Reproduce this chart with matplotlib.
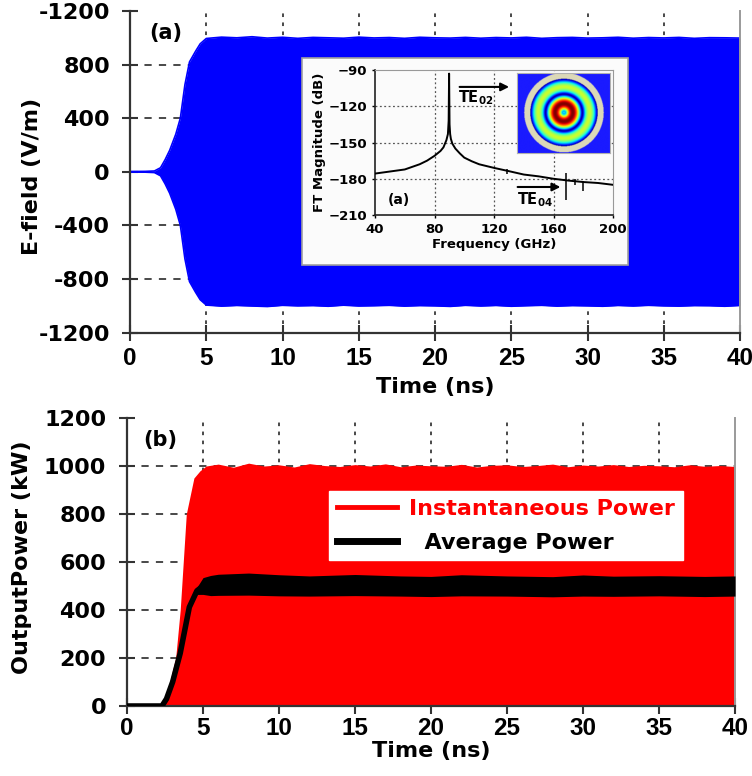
import numpy as np
import matplotlib
matplotlib.use("Agg")
import matplotlib.pyplot as plt
from matplotlib.patches import Rectangle
from matplotlib.lines import Line2D

plt.rcParams["font.family"] = ["DejaVu Sans"]
plt.rcParams["font.weight"] = "bold"
plt.rcParams["mathtext.default"] = "bf"

# ---------------- (a) E-field envelope (V/m) ----------------
t_field = [0, 1.0, 1.6, 2.0, 2.3, 2.6, 3.0, 3.3, 3.6, 3.9, 4.3, 4.6, 5.0,
           6, 7, 8, 9, 10, 11, 12, 13, 14, 15, 16, 17, 18, 19, 20, 21, 22,
           23, 24, 25, 26, 27, 28, 29, 30, 31, 32, 33, 34, 35, 36, 37, 38, 39, 40]
field_upper = [2, 3, 6, 30, 90, 160, 280, 400, 650, 820, 900, 955, 995,
               1005, 1000, 1008, 998, 1004, 996, 1003, 1000, 997, 1005, 999, 1002, 996,
               1004, 1000, 998, 1003, 997, 1002, 999, 1004, 996, 1001, 1003, 998,
               1000, 1004, 997, 1002, 999, 1003, 996, 1001, 1000, 998]
field_lower = [2, 3, 6, 30, 90, 160, 280, 400, 650, 820, 900, 955, 995,
               1003, 998, 1002, 1006, 997, 1001, 999, 1004, 996, 1002, 1000, 997, 1003,
               999, 1001, 1005, 997, 1002, 998, 1004, 1000, 997, 1003, 999, 1001,
               1004, 998, 1002, 997, 1001, 1003, 999, 1000, 1004, 998]
field_ticks = [-1200, -800, -400, 0, 400, 800, 1200]
field_tick_labels = ["-1200", "-800", "-400", "0", "400", "800", "-1200"]
time_ticks = [0, 5, 10, 15, 20, 25, 30, 35, 40]

# ---------------- inset: FT spectrum ----------------
freq = [40, 50, 60, 70, 75, 80, 84, 86, 88, 89, 89.5, 89.8, 90.1, 90.5, 91, 92,
        94, 97, 100, 105, 110, 120, 130, 140, 150, 160, 170, 180, 190, 200]
ft_db = [-175.7, -174, -172.3, -168, -165, -161, -157, -154, -148, -143, -132, -93,
         -135, -143, -147, -151, -155, -159, -162.5, -165.5, -168, -171, -173.7,
         -176.5, -178, -180, -181.5, -182.7, -183.5, -185]
spike_freq = [168.4, 179.7, 174.5, 128.5]
spike_top = [-175, -181.5, -180.5, -172]
spike_bottom = [-197.5, -190.5, -185.5, -176]
freq_ticks = [40, 80, 120, 160, 200]
db_ticks = [-210, -180, -150, -120, -90]

# ---------------- (b) output power (kW) ----------------
t_power = [0, 2.3, 2.6, 3.0, 3.2, 3.5, 3.7, 3.9, 4.4, 4.8, 5.2,
           6, 7, 8, 9, 10, 11, 12, 13, 14, 15, 16, 17, 18, 19, 20, 21, 22,
           23, 24, 25, 26, 27, 28, 29, 30, 31, 32, 33, 34, 35, 36, 37, 38, 39, 40]
inst_power = [0, 0, 40, 150, 200, 400, 600, 800, 950, 980, 1000,
              1008, 995, 1012, 1000, 1005, 996, 1010, 1002, 998, 1006, 1000, 1009, 997,
              1004, 1001, 999, 1007, 996, 1003, 1005, 998, 1002, 1008, 997, 1004,
              1000, 1006, 998, 1003, 1001, 997, 1005, 999, 1002, 998]
t_avg = [0, 2.3, 2.6, 3.0, 3.5, 4.1, 4.6, 5.0, 5.5, 6, 8, 10, 12, 15, 18, 20,
         22, 25, 28, 30, 32, 35, 38, 40]
avg_power = [0, 0, 30, 100, 220, 412, 480, 500, 502, 505, 508, 503, 500, 504,
             500, 498, 503, 500, 497, 502, 499, 501, 498, 500]
avg_spread = [0, 0, 0, 0, 0, 0, 15, 35, 42, 44, 46, 44, 42, 44, 42, 42, 44,
              42, 42, 44, 42, 42, 42, 42]
power_ticks = [0, 200, 400, 600, 800, 1000, 1200]

BLUE = "#0000ff"
RED = "#ff0000"
GRID = "#3a3a3a"


def style_axes(ax, ypad, xpad):
    for side in ("left", "bottom"):
        ax.spines[side].set_linewidth(1.6)
        ax.spines[side].set_color("#333333")
    ax.spines["top"].set_visible(False)
    ax.spines["right"].set_color("#9a9a9a")
    ax.spines["right"].set_linewidth(1.4)
    ax.tick_params(axis="both", direction="inout", length=11, width=1.5,
                   labelsize=16, color="#333333")
    ax.tick_params(axis="y", pad=ypad, right=False)
    ax.tick_params(axis="x", pad=xpad, top=False, labelsize=17.5)
    for lab in ax.get_xticklabels():
        lab.set_fontfamily(["Liberation Sans", "DejaVu Sans"])
        lab.set_fontweight("bold")


def inner_grid(ax, xs, ys):
    for x in xs[1:-1]:
        ax.axvline(x, color=GRID, lw=1.3, ls=(0, (2, 3)), zorder=1)
    for y in ys[1:-1]:
        ax.axhline(y, color=GRID, lw=1.3, ls=(0, (4, 4)), zorder=1)


fig = plt.figure(figsize=(7.52, 7.76), dpi=100)

# ---------------- panel (a) ----------------
ax1 = fig.add_axes([0.1729, 0.5715, 0.8112, 0.4143])
inner_grid(ax1, time_ticks, field_ticks)
tf = np.array(t_field)
up = np.array(field_upper)
lo = -np.array(field_lower)
ax1.fill_between(tf, lo, up, color=BLUE, lw=0, zorder=2)
ax1.plot(tf, up, color=BLUE, lw=1.2, zorder=2)
ax1.plot(tf, lo, color=BLUE, lw=1.2, zorder=2)
ax1.set_xlim(0, 40)
ax1.set_ylim(-1200, 1200)
ax1.set_xticks(time_ticks)
ax1.set_yticks(field_ticks)
ax1.set_yticklabels(field_tick_labels)
style_axes(ax1, ypad=9, xpad=5)
ax1.set_xlabel("Time (ns)", fontsize=16, fontweight="bold")
ax1.set_ylabel("E-field (V/m)", fontsize=16, fontweight="bold")
ax1.xaxis.set_label_coords(0.5, -0.138)
ax1.yaxis.set_label_coords(-0.144, 0.487)
ax1.text(0.0585, 0.933, "(a)", transform=ax1.transAxes, fontsize=15,
         fontweight="bold", ha="center", va="center")

# inset frame and spectrum
fig.patches.append(Rectangle((0.4016, 0.6585), 0.4335, 0.2668,
                             transform=fig.transFigure, facecolor="#fbfbfb",
                             edgecolor="#a0a0a0", lw=1.2, zorder=5))
axi = fig.add_axes([0.4987, 0.7229, 0.3165, 0.1869])
axi.set_zorder(6)
axi.set_facecolor("#fbfbfb")
for x in freq_ticks[1:-1]:
    axi.axvline(x, color="#555555", lw=0.9, ls=(0, (1.5, 2)), zorder=1)
for y in db_ticks[1:-1]:
    axi.axhline(y, color="#555555", lw=0.9, ls=(0, (1.5, 2)), zorder=1)
axi.plot(freq, ft_db, color="black", lw=1.4, zorder=3)
axi.vlines(spike_freq, spike_bottom, spike_top, color="black", lw=1.1, zorder=3)
axi.set_xlim(40, 200)
axi.set_ylim(-210, -90)
axi.set_xticks(freq_ticks)
axi.set_yticks(db_ticks)
axi.tick_params(labelsize=9.5, length=2.5, width=1, pad=3)
for side in ("left", "bottom"):
    axi.spines[side].set_color("#222222")
    axi.spines[side].set_linewidth(1.2)
for side in ("top", "right"):
    axi.spines[side].set_color("#999999")
axi.set_xlabel("Frequency (GHz)", fontsize=9.5, fontweight="bold", labelpad=2)
axi.set_ylabel("FT Magnitude (dB)", fontsize=9.5, fontweight="bold", labelpad=2)
axi.annotate("", xy=(132, -104), xytext=(95, -104),
             arrowprops=dict(arrowstyle="-|>", color="black", lw=1.5,
                             mutation_scale=12))
axi.text(95.5, -113, r"TE$_{02}$", fontsize=10.5, ha="left", va="center")
axi.annotate("", xy=(166.5, -186.8), xytext=(134, -186.8),
             arrowprops=dict(arrowstyle="-|>", color="black", lw=1.5,
                             mutation_scale=12))
axi.text(135.5, -197.5, r"TE$_{04}$", fontsize=10.5, ha="left", va="center")
axi.text(56, -197.5, "(a)", fontsize=10, fontweight="bold", ha="center", va="center")

# TE02 field map (pixel-scaled grid so the guide cross-section stays circular)
axm = fig.add_axes([0.6875, 0.8028, 0.1237, 0.1031])
axm.set_zorder(7)
half_w, half_h = 46.5, 40.0
X, Y = np.meshgrid(np.linspace(-half_w, half_w, 240), np.linspace(-half_h, half_h, 206))
R = np.hypot(X, Y)
wall_r, field_r = 39.5, 33.5
tau = np.linspace(0, np.pi, 200)
rr = np.linspace(0, 1, 300)
j1 = np.trapezoid(np.cos(tau[None, :] - 7.016 * rr[:, None] * np.sin(tau[None, :])),
                  tau, axis=1) / np.pi
rg = R / field_r
mag = np.interp(np.clip(rg, 0, 1), rr, np.abs(j1)) / 0.582
mag = np.maximum(mag, 0.38 * np.exp(-(rg / 0.08) ** 2))
rgba = plt.cm.jet(np.clip(mag, 0, 1))
rgba[(R > field_r) & (R <= wall_r)] = matplotlib.colors.to_rgba("#dcd9b8")
rgba[R > wall_r] = matplotlib.colors.to_rgba("#1a1aff")
axm.imshow(rgba, extent=(-half_w, half_w, -half_h, half_h), aspect="auto",
           interpolation="bilinear")
axm.set_xticks([])
axm.set_yticks([])
for s in axm.spines.values():
    s.set_color("#b0b0b0")
    s.set_linewidth(0.8)

# ---------------- panel (b) ----------------
ax2 = fig.add_axes([0.1689, 0.0902, 0.8085, 0.3711])
inner_grid(ax2, time_ticks, power_ticks)
ax2.fill_between(t_power, 0, inst_power, color=RED, lw=0, zorder=2)
ta = np.array(t_avg)
pa = np.array(avg_power)
sp = np.array(avg_spread)
ax2.fill_between(ta, pa - sp, pa + sp, color="black", lw=0, zorder=3)
ax2.plot(ta, pa, color="black", lw=4, zorder=3, solid_capstyle="butt")
ax2.set_xlim(0, 40)
ax2.set_ylim(0, 1200)
ax2.set_xticks(time_ticks)
ax2.set_yticks(power_ticks)
style_axes(ax2, ypad=9.5, xpad=2.5)
ax2.set_xlabel("Time (ns)", fontsize=16, fontweight="bold")
ax2.set_ylabel("OutputPower (kW)", fontsize=16, fontweight="bold")
ax2.xaxis.set_label_coords(0.5, -0.122)
ax2.yaxis.set_label_coords(-0.156, 0.517)
ax2.text(0.054, 0.925, "(b)", transform=ax2.transAxes, fontsize=15,
         fontweight="bold", ha="center", va="center")

handles = [Line2D([], [], color=RED, lw=3.5), Line2D([], [], color="black", lw=5)]
leg = ax2.legend(handles, ["Instantaneous Power", "  Average Power"],
                 loc="upper left", bbox_to_anchor=(0.333, 0.745),
                 frameon=True, fancybox=False, framealpha=1, edgecolor="white",
                 fontsize=16, handlelength=2.7, handletextpad=0.55,
                 labelspacing=0.6, borderpad=0.35, borderaxespad=0)
leg.set_zorder(10)
for txt, col in zip(leg.get_texts(), [RED, "black"]):
    txt.set_color(col)
    txt.set_fontweight("bold")

fig.savefig("out.png", dpi=100)
